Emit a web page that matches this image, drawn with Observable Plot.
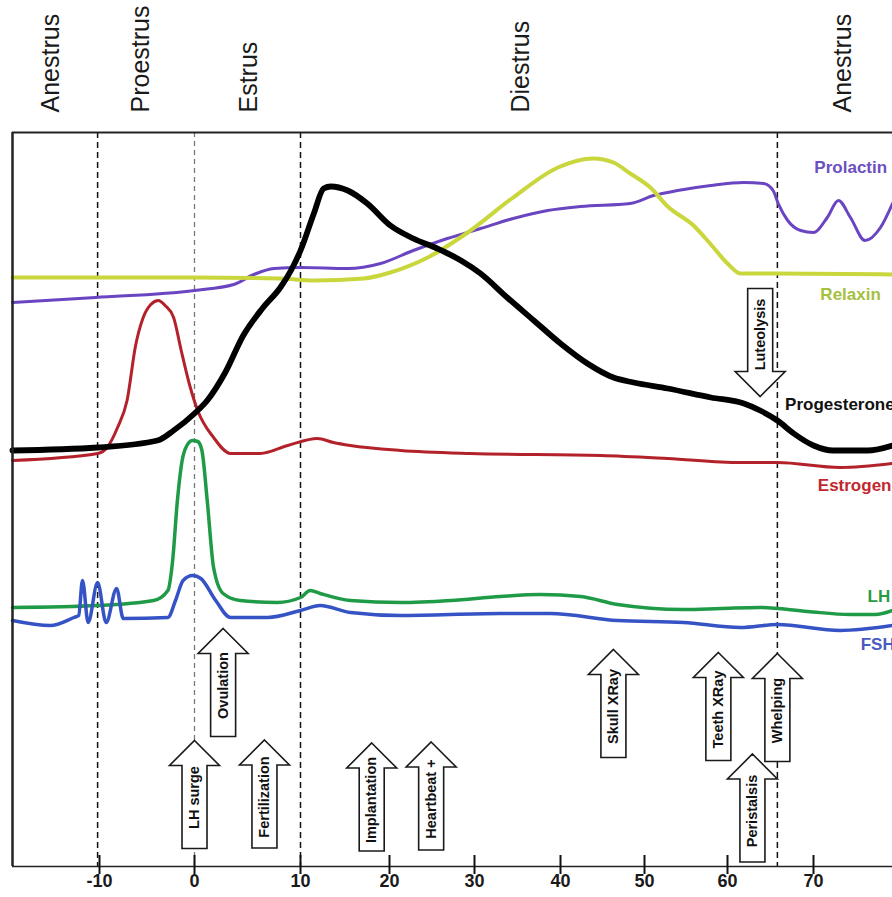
<!DOCTYPE html>
<html><head><meta charset="utf-8">
<script src="https://cdn.jsdelivr.net/npm/d3@7"></script>
<script src="https://cdn.jsdelivr.net/npm/@observablehq/plot@0.6"></script>
<style>
html,body{margin:0;padding:0;background:#fff;overflow:hidden}
#chart svg{display:block;overflow:hidden !important}
</style></head><body><div id="chart"></div>
<script>
// ---- axis / phases ----
const xTicks = [-10, 0, 10, 20, 30, 40, 50, 60, 70];
const phaseNames = ["Anestrus", "Proestrus", "Estrus", "Diestrus", "Anestrus"];
const phaseDays = [-15.2, -5.7, 5.1, 35.3, 73.4];
const boundaryDays = [-10.2, 10, 65.8];
const ovulationDay = [0];

// ---- hormone curves (day, relative level) ----
const prolactinDay = [-19.2,-10.4,0,3.7,5.6,7.5,10,15.3,19.0,22.8,26.8,30.7,34.5,38.5,42.4,48.3,51.1,54.0,58.0,61.9,64.2,65.3,65.9,67.0,68.5,70.0,71.6,72.9,74.3,76.0,77.8,79.2];
const prolactinLevel = [56.4,56.9,57.6,58.2,59.2,59.8,59.9,59.8,60.3,61.6,62.8,63.8,64.8,65.6,66.0,66.3,67.1,67.6,68.1,68.4,68.3,67.6,66.3,64.6,63.6,63.4,64.9,66.6,64.9,62.6,63.9,66.3];

const relaxinDay = [-19.2,-10,0,8.1,11.5,17.1,20.1,24.5,29.2,34.5,39.7,43.9,46.3,48.3,50.7,52.8,55.9,58.0,60.0,61.5,65.8,79.2];
const relaxinLevel = [58.9,58.9,58.9,58.8,58.6,58.8,59.4,60.9,63.4,66.9,69.9,70.8,70.4,69.3,67.9,66.0,64.1,62.2,60.3,59.3,59.3,59.2];

const progesteroneDay = [-19.2,-10.2,-3.9,-2.2,0,1.2,2.9,4.6,6.4,8.1,9.1,10,11.5,12.6,13.4,15.3,17.5,20.1,22.8,25.6,28.4,30.7,33.8,36.9,40,43.2,46.3,48.7,52.8,58.0,61.9,63.8,65.8,67.7,70,72.3,76.3,79.2];
const progesteroneLevel = [41.6,41.9,42.6,43.6,45.3,46.6,49.4,53.1,55.8,57.9,59.6,61.6,65.3,67.8,68.0,67.6,66.3,64.1,62.8,61.8,60.6,59.3,56.9,54.6,52.3,50.3,48.9,48.4,47.8,46.9,46.3,45.6,44.6,43.3,42.1,41.6,41.6,42.1];

const estrogenDay = [-19.2,-10.2,-9.2,-8.1,-7.1,-6.2,-5.4,-4.6,-3.8,-3.1,-2.2,-1.4,-0.5,0.3,1.8,3.4,6.2,8.8,11.9,13.7,15.6,21.3,29.5,44.8,52.8,61.5,65.8,73.1,79.2];
const estrogenLevel = [40.6,41.3,41.9,43.9,46.6,52.1,54.9,56.2,56.6,56.1,54.9,51.6,48.1,45.6,42.9,41.3,41.3,42.1,42.8,42.4,42.1,41.6,41.3,41.1,40.8,40.4,40.4,39.9,40.3];

const lhDay = [-19.2,-10.2,-4.3,-2.8,-2.3,-1.8,-1.3,-0.8,-0.2,0.3,0.7,1.2,1.8,2.7,4.3,7.8,10,11.1,12.2,15.6,21.3,27.2,33.0,37.7,42.4,46.8,54.7,59.2,63.8,69.3,74.3,77.2,79.2];
const lhLevel = [25.9,26.1,26.6,27.6,30.6,36.6,40.6,42.1,42.6,42.5,41.6,36.6,29.9,27.3,26.6,26.4,26.9,27.6,27.3,26.6,26.4,26.6,27.0,27.2,27.0,26.2,25.7,25.8,25.9,25.5,25.2,25.2,25.6];

const fshDay = [-19.2,-15.2,-12.7,-12.2,-11.8,-11.2,-10.2,-9.3,-8.2,-7.5,-2.8,-2.0,-1.2,-0.2,0.6,2.0,3.4,6.9,10,12.2,15.6,21.3,33.0,38.8,46.8,54.7,61.5,65.8,73.1,79.2];
const fshLevel = [24.6,24.1,24.9,25.1,28.6,24.4,28.4,24.4,27.8,24.8,24.9,26.6,28.6,29.1,28.8,26.6,24.9,24.9,25.6,26.1,25.4,25.1,25.3,25.3,24.6,24.4,23.9,24.2,23.6,24.1];

// ---- curve labels ----
const labelNames = ["Prolactin", "Relaxin", "Progesterone", "Estrogen", "LH", "FSH"];
const labelDays = [70.1, 70.8, 66.7, 70.5, 76.3, 75.5];
const labelLevels = [69.9, 57.2, 46.2, 38.1, 27.0, 22.2];

// ---- events (arrows) ----
const eventNames = ["Ovulation", "LH surge", "Fertilization", "Implantation", "Heartbeat +", "Skull XRay", "Teeth XRay", "Whelping", "Peristalsis", "Luteolysis"];
const eventDays = [2.7, 0, 6.6, 18.0, 24.9, 46.3, 58.9, 65.8, 62.9, 63.8];
const eventLevels = [18.4, 7.2, 7.25, 6.95, 7.05, 16.3, 16.0, 15.9, 5.85, 52.4];
const eventDirs = ["up","up","up","up","up","up","up","up","up","down"];

// ---- styles ----
const style = {
  Prolactin: {line: "#6a45c2", text: "#6c4fc0", w: 3},
  Relaxin: {line: "#c9d63c", text: "#a5c03e", w: 4},
  Progesterone: {line: "#000000", text: "#111111", w: 5.8},
  Estrogen: {line: "#b3222a", text: "#c0282e", w: 3},
  LH: {line: "#1f9a46", text: "#2a9a45", w: 3.5},
  FSH: {line: "#3553c4", text: "#4a5bc0", w: 3.5}
};
const font = "'Liberation Sans', Arial, Helvetica, sans-serif";

// The hand-drawn day axis is not evenly spaced: warp days onto the axis
const xMin = -19.2, xMax = 79.2, yMax = 73.4;
const warp = d3.scaleLinear()
  .domain([xMin, -10, 0, 10, 20, 30, 40, 50, 60, 70, xMax])
  .range([0, 87, 182, 288, 377, 462, 548, 632, 715, 801, 880]);

const zip = (days, levels) => days.map((d, i) => ({day: d, level: levels[i]}));
const curves = [
  ["Prolactin", zip(prolactinDay, prolactinLevel)],
  ["Relaxin", zip(relaxinDay, relaxinLevel)],
  ["Estrogen", zip(estrogenDay, estrogenLevel)],
  ["LH", zip(lhDay, lhLevel)],
  ["FSH", zip(fshDay, fshLevel)],
  ["Progesterone", zip(progesteroneDay, progesteroneLevel)]
];
const labels = labelNames.map((n, i) => ({name: n, day: labelDays[i], level: labelLevels[i]}));
const events = eventNames.map((n, i) => ({name: n, day: eventDays[i], level: eventLevels[i], dir: eventDirs[i]}));
const phases = phaseNames.map((n, i) => ({name: n, day: phaseDays[i]}));

const arrowUp = {draw(ctx) {
  ctx.moveTo(0, -54); ctx.lineTo(25, -29); ctx.lineTo(12.5, -29); ctx.lineTo(12.5, 54);
  ctx.lineTo(-12.5, 54); ctx.lineTo(-12.5, -29); ctx.lineTo(-25, -29); ctx.closePath();
}};
const arrowDown = {draw(ctx) {
  ctx.moveTo(0, 54); ctx.lineTo(25, 29); ctx.lineTo(12.5, 29); ctx.lineTo(12.5, -54);
  ctx.lineTo(-12.5, -54); ctx.lineTo(-12.5, 29); ctx.lineTo(-25, 29); ctx.closePath();
}};

const chart = Plot.plot({
  width: 892,
  height: 897,
  marginTop: 132,
  marginBottom: 31,
  marginLeft: 12,
  marginRight: 0,
  style: {fontFamily: font, background: "#fff", overflow: "hidden"},
  x: {transform: warp, domain: [warp(xMin), warp(xMax)], axis: null},
  y: {domain: [0, yMax], axis: null},
  marks: [
    Plot.ruleX(boundaryDays, {stroke: "#111", strokeWidth: 1.5, strokeDasharray: "6,4"}),
    Plot.ruleX(ovulationDay, {stroke: "#777", strokeWidth: 1.3, strokeDasharray: "5,4"}),
    ...curves.map(([name, pts]) => Plot.line(pts, {
      x: "day", y: "level", stroke: style[name].line, strokeWidth: style[name].w,
      curve: "monotone-x", strokeLinejoin: "round", strokeLinecap: "round"
    })),
    Plot.text(labels, {x: "day", y: "level", text: "name", textAnchor: "start",
      fill: d => style[d.name].text, fontWeight: "bold", fontSize: 17}),
    Plot.dot(events.filter(d => d.dir === "up"), {x: "day", y: "level", r: 1, symbol: arrowUp,
      fill: "white", stroke: "#1a1a1a", strokeWidth: 1.6}),
    Plot.dot(events.filter(d => d.dir === "down"), {x: "day", y: "level", r: 1, symbol: arrowDown,
      fill: "white", stroke: "#1a1a1a", strokeWidth: 1.6}),
    Plot.text(events.filter(d => d.dir === "up"), {x: "day", y: "level", text: "name", rotate: -90,
      dy: 3, fontWeight: "bold", fontSize: 14.5, fill: "#111"}),
    Plot.text(events.filter(d => d.dir === "down"), {x: "day", y: "level", text: "name", rotate: -90,
      dy: -8, fontWeight: "bold", fontSize: 14.5, fill: "#111"}),
    // frame: left, top, bottom axis line
    Plot.ruleX([xMin], {stroke: "#222", strokeWidth: 2.5}),
    Plot.ruleY([yMax], {stroke: "#222", strokeWidth: 2}),
    Plot.ruleY([0], {stroke: "#222", strokeWidth: 1.5}),
    // x ticks crossing the axis line
    Plot.ruleX(xTicks, {x: d => d, y1: 0, y2: 0, insetTop: -11, insetBottom: -8, stroke: "#111", strokeWidth: 2}),
    Plot.text(xTicks, {x: d => d, frameAnchor: "bottom", dy: 20, text: d => String(d),
      fontWeight: "bold", fontSize: 18, fill: "#1a1a1a"}),
    // phase labels above the frame
    Plot.text(phases, {x: "day", frameAnchor: "top", dx: -9, dy: -20, text: "name", rotate: -90,
      textAnchor: "start", fontSize: 25, fill: "#1a1a1a"})
  ]
});
document.getElementById("chart").append(chart);
</script></body></html>
